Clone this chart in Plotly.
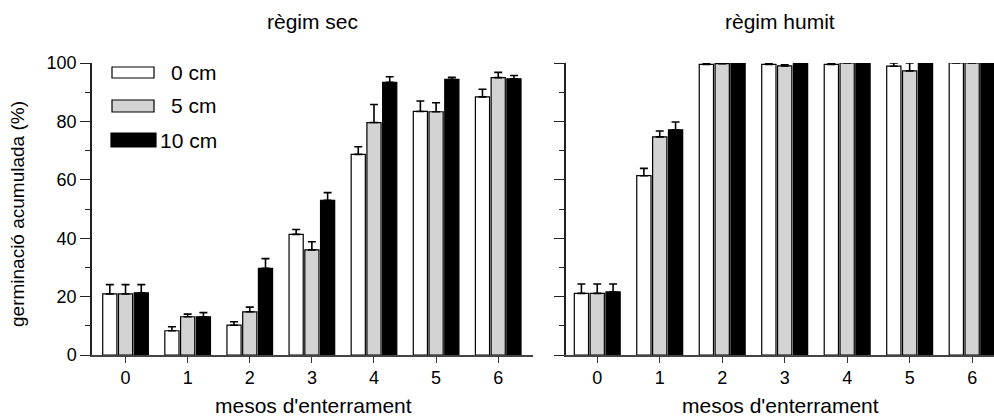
import plotly.graph_objects as go

# months of burial
months = [0, 1, 2, 3, 4, 5, 6]
depths = ["0 cm", "5 cm", "10 cm"]

# dry regime: cumulative germination (%) and upper SE
sec_0 = [20.9, 8.3, 10.2, 41.3, 68.7, 83.4, 88.4]
sec_0_err = [3.2, 1.4, 1.2, 1.7, 2.6, 3.6, 2.6]
sec_5 = [20.9, 13.1, 14.8, 36.0, 79.6, 83.3, 95.0]
sec_5_err = [3.2, 0.9, 1.6, 2.8, 6.2, 3.1, 1.8]
sec_10 = [21.3, 13.1, 29.7, 53.0, 93.4, 94.4, 94.6]
sec_10_err = [2.8, 1.4, 3.3, 2.6, 1.9, 0.7, 1.1]

# wet regime
hum_0 = [21.1, 61.4, 99.5, 99.5, 99.5, 98.9, 100.0]
hum_0_err = [3.2, 2.5, 0.2, 0.2, 0.5, 1.1, 0.0]
hum_5 = [21.1, 74.7, 99.8, 99.0, 100.0, 97.3, 100.0]
hum_5_err = [3.2, 2.0, 0.1, 0.4, 0.0, 2.7, 0.0]
hum_10 = [21.6, 77.1, 100.0, 99.8, 100.0, 100.0, 100.0]
hum_10_err = [2.7, 2.7, 0.0, 0.0, 0.0, 0.0, 0.0]

y_ticks = [0, 20, 40, 60, 80, 100]

fills = ["#ffffff", "#d3d3d3", "#000000"]
FONT = "Liberation Sans, Arial, sans-serif"
W, H = 994, 419

fig = go.Figure()

panels = [
    ("x", "y", [sec_0, sec_5, sec_10], [sec_0_err, sec_5_err, sec_10_err]),
    ("x2", "y2", [hum_0, hum_5, hum_10], [hum_0_err, hum_5_err, hum_10_err]),
]
for xa, ya, series, errs in panels:
    for i, (vals, err) in enumerate(zip(series, errs)):
        fig.add_trace(go.Bar(
            x=months, y=vals, name=depths[i], xaxis=xa, yaxis=ya,
            offsetgroup=str(i), showlegend=False,
            marker=dict(color=fills[i], line=dict(color="#000000", width=1.2)),
            error_y=dict(type="data", symmetric=False, array=err,
                         arrayminus=[0] * len(err), color="#000000",
                         thickness=1.6, width=4),
        ))

def px_x(p):
    return p / W

def px_y(p):
    return 1 - p / H

y_dom = [px_y(355), px_y(63)]
axis_font = dict(family=FONT, size=18, color="#000000")

common_x = dict(
    tickmode="array", tickvals=months, ticktext=[str(m) for m in months],
    ticks="outside", ticklen=6, tickwidth=1.2, tickcolor="#333333",
    showline=True, linecolor="#444444", linewidth=1.5,
    showgrid=False, zeroline=False, tickfont=axis_font, automargin=False,
)
common_y = dict(
    range=[0, 100], tickmode="array", tickvals=y_ticks,
    ticks="outside", ticklen=10, tickwidth=1.2, tickcolor="#222222",
    minor=dict(dtick=10, tick0=0, ticks="outside", ticklen=5,
               tickwidth=1.2, tickcolor="#222222"),
    showline=True, linecolor="#222222", linewidth=1.5,
    showgrid=False, zeroline=False, tickfont=axis_font, domain=y_dom,
    automargin=False,
)

fig.update_layout(
    width=W, height=H,
    margin=dict(l=0, r=0, t=0, b=0, pad=0, autoexpand=False),
    paper_bgcolor="white", plot_bgcolor="white",
    barmode="group", bargap=0.24, bargroupgap=0.1,
    xaxis=dict(common_x, domain=[px_x(92), px_x(533)], range=[-0.54, 6.56], anchor="y"),
    xaxis2=dict(common_x, domain=[px_x(566), 1.0], range=[-0.5, 6.35], anchor="y2"),
    yaxis=dict(common_y, anchor="x"),
    yaxis2=dict(common_y, anchor="x2", showticklabels=False),
    font=dict(family=FONT, color="#000000"),
)

title_font = dict(family=FONT, size=21, color="#000000")
annots = [
    dict(text="règim sec", x=px_x(312), y=px_y(21)),
    dict(text="règim humit", x=px_x(780), y=px_y(21)),
    dict(text="mesos d'enterrament", x=px_x(313), y=px_y(405)),
    dict(text="mesos d'enterrament", x=px_x(780), y=px_y(405)),
]
for a in annots:
    fig.add_annotation(xref="paper", yref="paper", showarrow=False,
                       xanchor="center", yanchor="middle", font=title_font, **a)
fig.add_annotation(text="germinació acumulada (%)", xref="paper", yref="paper",
                   x=px_x(18), y=px_y(214), textangle=-90, showarrow=False,
                   xanchor="center", yanchor="middle",
                   font=dict(family=FONT, size=19, color="#000000"))

# legend: wide swatches with right-aligned labels
legend_rows = [(67, 78, 112, 154), (100, 112, 112, 154), (133, 147, 111, 156)]
for (y0, y1, x0, x1), fill, label in zip(legend_rows, fills, depths):
    fig.add_shape(type="rect", xref="paper", yref="paper",
                  x0=px_x(x0), x1=px_x(x1), y0=px_y(y1), y1=px_y(y0),
                  fillcolor=fill, line=dict(color="#000000", width=1.2))
    fig.add_annotation(text=label, xref="paper", yref="paper",
                       x=px_x(219), y=px_y((y0 + y1) / 2), showarrow=False,
                       xanchor="right", yanchor="middle", font=title_font)

fig.write_html("out.html")
